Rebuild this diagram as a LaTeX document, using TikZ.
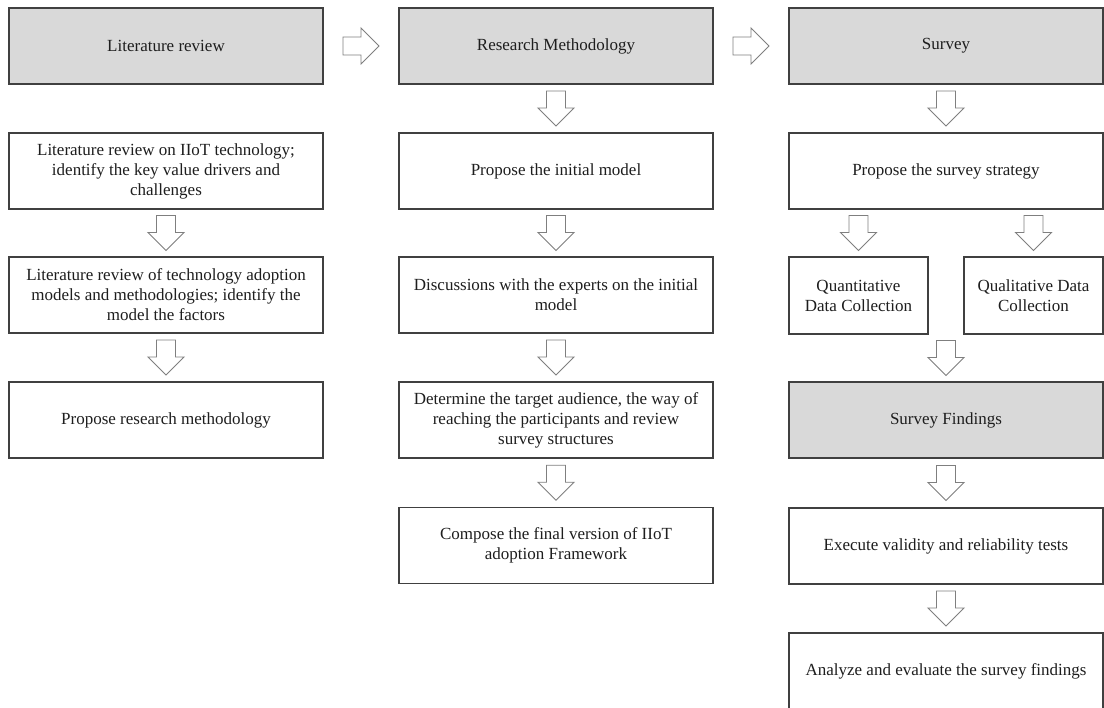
\documentclass[tikz,border=0pt]{standalone}
\usepackage{fontspec}
\setmainfont{Liberation Serif}
\usetikzlibrary{calc}

\definecolor{boxline}{HTML}{404040}
\definecolor{headfill}{HTML}{D9D9D9}
\definecolor{arrowline}{HTML}{7F7F7F}
\definecolor{inktext}{HTML}{1E1E1E}

% hollow block arrows, centred on a given point
\newcommand{\blockdown}[1]{%
  \draw[barrow] #1 ++(-9.5,-17.5) -- ++(19,0) -- ++(0,17) -- ++(8.5,0)
    -- ++(-18,18) -- ++(-18,-18) -- ++(8.5,0) -- cycle;}
\newcommand{\blockright}[1]{%
  \draw[barrow] #1 ++(-18,-9) -- ++(18,0) -- ++(0,-9) -- ++(18,18)
    -- ++(-18,18) -- ++(0,-9) -- ++(-18,0) -- cycle;}

\begin{document}
\begin{tikzpicture}[x=1pt,y=-1pt,
  stepbox/.style={draw=boxline, line width=1.2pt, fill=white,
    minimum width=314pt, minimum height=76pt, inner sep=0pt,
    align=center, text=inktext,
    font=\fontsize{17}{20}\selectfont},
  headbox/.style={stepbox, fill=headfill},
  halfbox/.style={stepbox, minimum width=139pt, minimum height=77pt},
  barrow/.style={draw=arrowline, line width=0.9pt, fill=white, line join=miter}]
\useasboundingbox (0,0) rectangle (1104,708);

% column headers
\node[headbox] (h1) at (166,46) {Literature review};
\node[headbox] (h2) at (556,46) {Research Methodology};
\node[headbox] (h3) at (946,46) {Survey};

% literature review column
\node[stepbox] (a1) at (166,171) {Literature review on IIoT technology;\\ identify the key value drivers and\\ challenges};
\node[stepbox] (a2) at (166,295) {Literature review of technology adoption\\ models and methodologies; identify the\\ model the factors};
\node[stepbox] (a3) at (166,420) {Propose research methodology};

% research methodology column
\node[stepbox] (b1) at (556,171) {Propose the initial model};
\node[stepbox] (b2) at (556,295) {Discussions with the experts on the initial\\ model};
\node[stepbox] (b3) at (556,420) {Determine the target audience, the way of\\ reaching the participants and review\\ survey structures};
\node[stepbox] (b4) at (556,545.5) {Compose the final version of IIoT\\ adoption Framework};

% survey column
\node[stepbox] (c1) at (946,171) {Propose the survey strategy};
\node[halfbox] (cq) at (858.5,295.5) {Quantitative\\ Data Collection};
\node[halfbox] (cl) at (1033.5,295.5) {Qualitative Data\\ Collection};
\node[headbox] (c3) at (946,420) {Survey Findings};
\node[stepbox] (c4) at (946,546) {Execute validity and reliability tests};
\node[stepbox] (c5) at (946,671) {Analyze and evaluate the survey findings};

% arrows between the column headers
\blockright{($(h1.east)!0.5!(h2.west)$)}
\blockright{($(h2.east)!0.5!(h3.west)$)}

% arrows down the literature review column
\blockdown{($(a1.south)!0.5!(a2.north)$)}
\blockdown{($(a2.south)!0.5!(a3.north)$)}

% arrows down the research methodology column
\blockdown{($(h2.south)!0.5!(b1.north)$)}
\blockdown{($(b1.south)!0.5!(b2.north)$)}
\blockdown{($(b2.south)!0.5!(b3.north)$)}
\blockdown{($(b3.south)!0.5!(b4.north)$)}

% arrows down the survey column
\blockdown{($(h3.south)!0.5!(c1.north)$)}
\blockdown{($(c1.south -| cq.north)!0.5!(cq.north)$)}
\blockdown{($(c1.south -| cl.north)!0.5!(cl.north)$)}
\blockdown{($(cq.south -| c3.north)!0.5!(c3.north)$)}
\blockdown{($(c3.south)!0.5!(c4.north)$)}
\blockdown{($(c4.south)!0.5!(c5.north)$)}
\end{tikzpicture}
\end{document}
